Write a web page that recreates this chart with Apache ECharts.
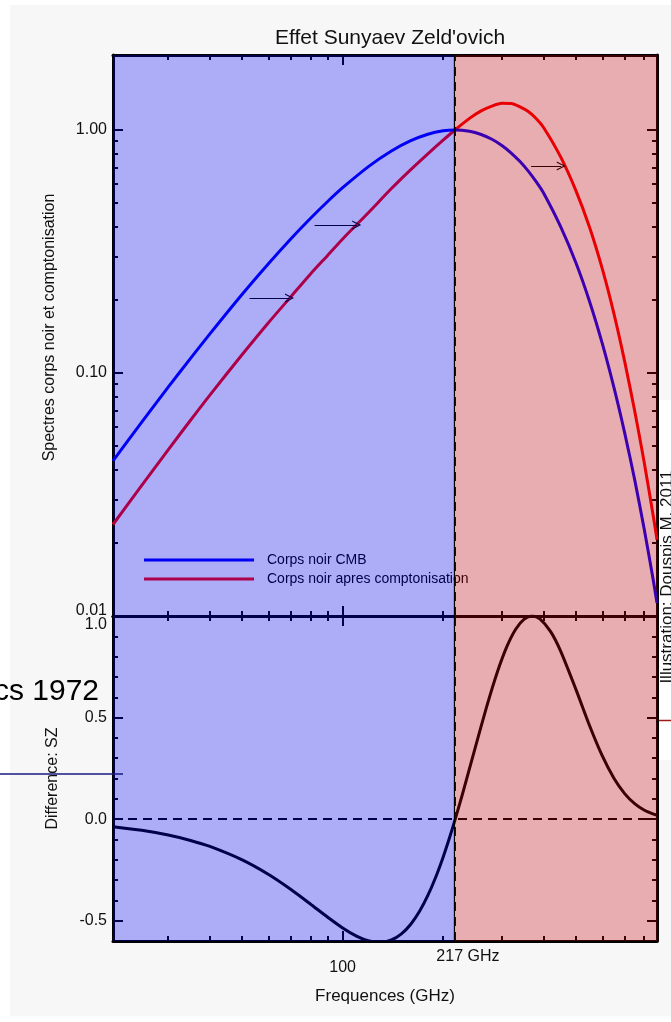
<!DOCTYPE html>
<html><head><meta charset="utf-8">
<script src="https://cdn.jsdelivr.net/npm/echarts@6/dist/echarts.min.js"></script>
<style>html,body{margin:0;padding:0;background:#fff}#c{width:671px;height:1022px}</style>
</head><body><div id="c"></div>
<script>
const FONT = "'Liberation Sans', Arial, Helvetica, sans-serif";

// ---- data ----
const freqs = [20.5,25,30,35,40,50,60,70,80,90,100,120,140,160,180,200,217,240,260,280,300,320,340,360,380,400,450,500,550,600,650,700,750,800,850,875];
const cmbSpectrum = [0.0435,0.0628,0.0874,0.1149,0.1448,0.2108,0.2822,0.3568,0.4322,0.5066,0.5786,0.7100,0.8196,0.9036,0.9609,0.9921,1.0,0.9876,0.9583,0.9156,0.8635,0.8040,0.7412,0.6768,0.6125,0.5503,0.400,0.284,0.196,0.132,0.0872,0.0567,0.0364,0.0230,0.0144,0.0113];
const comptonSpectrum = [0.0238,0.0345,0.0483,0.0639,0.0811,0.1191,0.1614,0.2062,0.255,0.304,0.356,0.460,0.574,0.687,0.798,0.908,1.0,1.116,1.198,1.254,1.287,1.286,1.245,1.191,1.115,1.024,0.775,0.563,0.396,0.268,0.1755,0.1116,0.0699,0.0433,0.0265,0.0206];
const diffFreqs = [20.5,25,30,35,40,50,60,70,80,90,100,110,120,130,140,150,160,170,180,190,200,208,217,225,230,250,270,290,310,330,350,370,390,420,450,500,550,600,650,700,750,800,850,875];
const szDifference = [-0.0376,-0.0553,-0.0786,-0.1051,-0.1346,-0.2007,-0.2727,-0.3465,-0.4175,-0.4819,-0.5358,-0.5759,-0.6001,-0.6068,-0.5950,-0.5649,-0.5174,-0.4538,-0.3759,-0.2862,-0.1873,-0.1031,-0.005,0.0835,0.139,0.3559,0.5528,0.7185,0.8466,0.9349,0.9846,0.9999,0.9858,0.9228,0.8271,0.6389,0.4586,0.3108,0.2012,0.1255,0.0758,0.0446,0.0256,0.0193];
const seriesNames = ['Corps noir CMB', 'Corps noir apres comptonisation'];
const xMinorTicks = [30,40,50,60,70,80,90,200,300,400,500,600,700,800];
const xMajorTicks = [100];
const xTickLabels = [100, 217];
const specMajorTicks = [0.01, 0.1, 1];
const specMinorTicks = [0.02,0.03,0.04,0.05,0.06,0.07,0.08,0.09,0.2,0.3,0.4,0.5,0.6,0.7,0.8,0.9];
const diffMajorTicks = [-0.5, 0, 0.5, 1.0];
const diffMinorTicks = [-0.4,-0.3,-0.2,-0.1,0.1,0.2,0.3,0.4,0.6,0.7,0.8,0.9];
const nullFreq = 217;
const bands = [[20.5, 217], [217, 875]];
// shift arrows: [from GHz, to GHz, level]
const arrows = [[52.6, 69.3, 0.2035], [82.4, 110.2, 0.4065], [367, 452, 0.711]];

const X_MIN = 20.5, X_MAX = 875, SPEC_MIN = 0.01, SPEC_MAX = 2.035, DIFF_MIN = -0.6, DIFF_MAX = 1.0;
const BLUE_VEIL = 'rgba(0,0,230,0.32)', RED_VEIL = 'rgba(183,0,8,0.32)';
const ARROW = 'path://M0,12 L6,0 L12,12 L10.4,12 L6,3.2 L1.6,12 Z';

function tickAxis(kind, grid, pos, type, min, max, ticks, len, line, extra) {
  return Object.assign({
    type: type, gridIndex: grid, position: pos, min: min, max: max,
    axisLine: {show: line, onZero: false, lineStyle: {color: '#000', width: 3}},
    axisTick: {show: true, inside: true, length: len, customValues: ticks, lineStyle: {color: '#000', width: 2}},
    axisLabel: {show: false}, splitLine: {show: false}, minorTick: {show: false}, z: 1
  }, extra || {});
}
const labelStyle = {fontFamily: FONT, fontSize: 16, color: '#111'};

const xAxes = [], yAxes = [];
for (let g = 0; g < 2; g++) {
  const bottomExtra = g === 1 ? {
    axisLabel: Object.assign({show: true, customValues: xTickLabels, margin: 8,
      formatter: v => Math.round(v) === 217 ? '{g|217 GHz}' : '{h|' + Math.round(v) + '}',
      rich: {g: Object.assign({padding: [0,0,0,26]}, labelStyle), h: Object.assign({padding: [11,0,0,0]}, labelStyle)}
    }, labelStyle),
    name: 'Frequences (GHz)', nameLocation: 'middle', nameGap: 47,
    nameTextStyle: {fontFamily: FONT, fontSize: 17, color: '#111'}
  } : {};
  xAxes.push(tickAxis('x', g, 'bottom', 'log', X_MIN, X_MAX, xMinorTicks, 5, true, bottomExtra));
  xAxes.push(tickAxis('x', g, 'bottom', 'log', X_MIN, X_MAX, xMajorTicks, 10, false));
  xAxes.push(tickAxis('x', g, 'top', 'log', X_MIN, X_MAX, xMinorTicks, 5, true));
  xAxes.push(tickAxis('x', g, 'top', 'log', X_MIN, X_MAX, xMajorTicks, 10, false));
}
// top panel y (log)
yAxes.push(tickAxis('y', 0, 'left', 'log', SPEC_MIN, SPEC_MAX, specMinorTicks, 5, true, {
  axisLabel: Object.assign({show: true, customValues: specMajorTicks, margin: 6,
    formatter: v => v < 0.05 ? '{lo|0.01}' : v.toFixed(2),
    rich: {lo: Object.assign({padding: [0,0,10,0]}, labelStyle)}}, labelStyle),
  name: 'Spectres corps noir et comptonisation', nameLocation: 'middle', nameGap: 55,
  nameTextStyle: {fontFamily: FONT, fontSize: 16, color: '#111', padding: [0,0,0,16]}
}));
yAxes.push(tickAxis('y', 0, 'left', 'log', SPEC_MIN, SPEC_MAX, specMajorTicks, 10, false));
yAxes.push(tickAxis('y', 0, 'right', 'log', SPEC_MIN, SPEC_MAX, specMinorTicks, 5, true));
yAxes.push(tickAxis('y', 0, 'right', 'log', SPEC_MIN, SPEC_MAX, specMajorTicks, 10, false));
// bottom panel y (linear)
yAxes.push(tickAxis('y', 1, 'left', 'value', DIFF_MIN, DIFF_MAX, diffMinorTicks, 5, true, {
  axisLabel: Object.assign({show: true, customValues: diffMajorTicks, margin: 6,
    formatter: v => Math.abs(v - 1) < 1e-9 ? '{hi|1.0}' : v.toFixed(1),
    rich: {hi: Object.assign({padding: [18,0,0,0]}, labelStyle)}}, labelStyle),
  name: 'Difference: SZ', nameLocation: 'middle', nameGap: 52,
  nameTextStyle: {fontFamily: FONT, fontSize: 16, color: '#111'}
}));
yAxes.push(tickAxis('y', 1, 'left', 'value', DIFF_MIN, DIFF_MAX, diffMajorTicks, 10, false));
yAxes.push(tickAxis('y', 1, 'right', 'value', DIFF_MIN, DIFF_MAX, diffMinorTicks, 5, true));
yAxes.push(tickAxis('y', 1, 'right', 'value', DIFF_MIN, DIFF_MAX, diffMajorTicks, 10, false));

function veil(yMin, yMax) {
  return function (params, api) {
    const x0 = api.value(0), x1 = api.value(1), k = api.value(3);
    const p0 = api.coord([x0, yMin]), p1 = api.coord([x1, yMax]);
    const kids = [{type: 'rect', shape: {x: p0[0], y: p1[1], width: p1[0] - p0[0], height: p0[1] - p1[1]},
      style: {fill: k === 0 ? BLUE_VEIL : RED_VEIL}}];
    if (k === 0) kids.push({type: 'line', shape: {x1: p1[0] - 0.5, y1: p1[1], x2: p1[0] - 0.5, y2: p0[1]},
      style: {stroke: '#000', lineWidth: 1.2}});
    return {type: 'group', children: kids};
  };
}
const bandData = bands.map((b, i) => [b[0], b[1], 1, i]);
const arrowLines = arrows.map(a => [
  {coord: [a[0], a[2]], symbol: 'none'},
  {coord: [a[1], a[2]], symbol: ARROW, symbolSize: [9, 9]}
]);
const dashed = {color: '#000', width: 2, type: [9, 6]};

const option = {
  animation: false,
  textStyle: {fontFamily: FONT},
  title: {text: "Effet Sunyaev Zeld'ovich", left: 270, top: 23,
    textStyle: {fontFamily: FONT, fontSize: 21, fontWeight: 'normal', color: '#111'}},
  grid: [
    {left: 113, right: 14, top: 55, height: 561, show: true, backgroundColor: '#fff', borderWidth: 0, outerBoundsMode: 'none'},
    {left: 113, right: 14, top: 616, height: 325, show: true, backgroundColor: '#fff', borderWidth: 0, outerBoundsMode: 'none'}
  ],
  legend: {data: seriesNames, orient: 'vertical', left: 144, top: 553, itemWidth: 110, itemHeight: 3, itemGap: 5,
    icon: 'rect', padding: 0, selectedMode: false,
    textStyle: {fontFamily: FONT, fontSize: 14, color: '#000', padding: [0,0,0,8]}},
  xAxis: xAxes,
  yAxis: yAxes,
  series: [
    {name: seriesNames[1], type: 'line', xAxisIndex: 0, yAxisIndex: 0, showSymbol: false, z: 2, smooth: 0.25,
      data: freqs.map((f, i) => [f, comptonSpectrum[i]]),
      lineStyle: {color: '#ff0000', width: 3}, itemStyle: {color: '#ff0000'}},
    {name: seriesNames[0], type: 'line', xAxisIndex: 0, yAxisIndex: 0, showSymbol: false, z: 3, smooth: 0.25,
      data: freqs.map((f, i) => [f, cmbSpectrum[i]]),
      lineStyle: {color: '#0000ff', width: 3}, itemStyle: {color: '#0000ff'},
      markLine: {silent: true, symbol: 'none', label: {show: false}, emphasis: {disabled: true},
        data: [{xAxis: nullFreq, lineStyle: dashed}].concat(arrowLines.map(l => [
          Object.assign({lineStyle: {color: '#000', width: 1, type: 'solid'}}, l[0]), l[1]]))}},
    {type: 'custom', xAxisIndex: 0, yAxisIndex: 0, z: 10, silent: true, encode: {x: [0, 1], y: 2},
      data: bandData, renderItem: veil(SPEC_MIN, SPEC_MAX)},
    {name: 'Difference', type: 'line', xAxisIndex: 4, yAxisIndex: 4, showSymbol: false, z: 3, smooth: 0.25,
      data: diffFreqs.map((f, i) => [f, szDifference[i]]),
      lineStyle: {color: '#000', width: 3}, itemStyle: {color: '#000'},
      markLine: {silent: true, symbol: 'none', label: {show: false}, emphasis: {disabled: true},
        data: [{yAxis: 0, lineStyle: dashed}, {xAxis: nullFreq, lineStyle: dashed}]}},
    {type: 'custom', xAxisIndex: 4, yAxisIndex: 4, z: 10, silent: true, encode: {x: [0, 1], y: 2},
      data: bandData, renderItem: veil(DIFF_MIN, DIFF_MAX)}
  ],
  graphic: [
    {type: 'rect', silent: true, z: -100, shape: {x: 10, y: 5, width: 661, height: 1011}, style: {fill: '#f7f7f7'}},
    {type: 'rect', silent: true, z: -90, shape: {x: 659, y: 400, width: 12, height: 360}, style: {fill: '#ffffff'}},
    {type: 'text', silent: true, z: 20, x: 99, y: 692, style: {text: 'cs 1972', font: "30px 'Liberation Sans', Arial, sans-serif", fill: '#000', textAlign: 'right', textVerticalAlign: 'middle'}},
    {type: 'line', silent: true, z: 20, shape: {x1: 0, y1: 774, x2: 123, y2: 774}, style: {stroke: '#1a1a80', lineWidth: 1.6}},
    {type: 'line', silent: true, z: 20, shape: {x1: 659, y1: 720.5, x2: 671, y2: 720.5}, style: {stroke: '#a01818', lineWidth: 1.5}},
    {type: 'text', silent: true, z: 20, x: 676, y: 577, rotation: Math.PI / 2, style: {text: 'Illustration: Douspis M. 2011', font: "17px 'Liberation Sans', Arial, sans-serif", fill: '#111', textAlign: 'center', textVerticalAlign: 'bottom'}}
  ]
};
const chart = echarts.init(document.getElementById('c'), null, {renderer: 'canvas'});
chart.setOption(option);
</script></body></html>
